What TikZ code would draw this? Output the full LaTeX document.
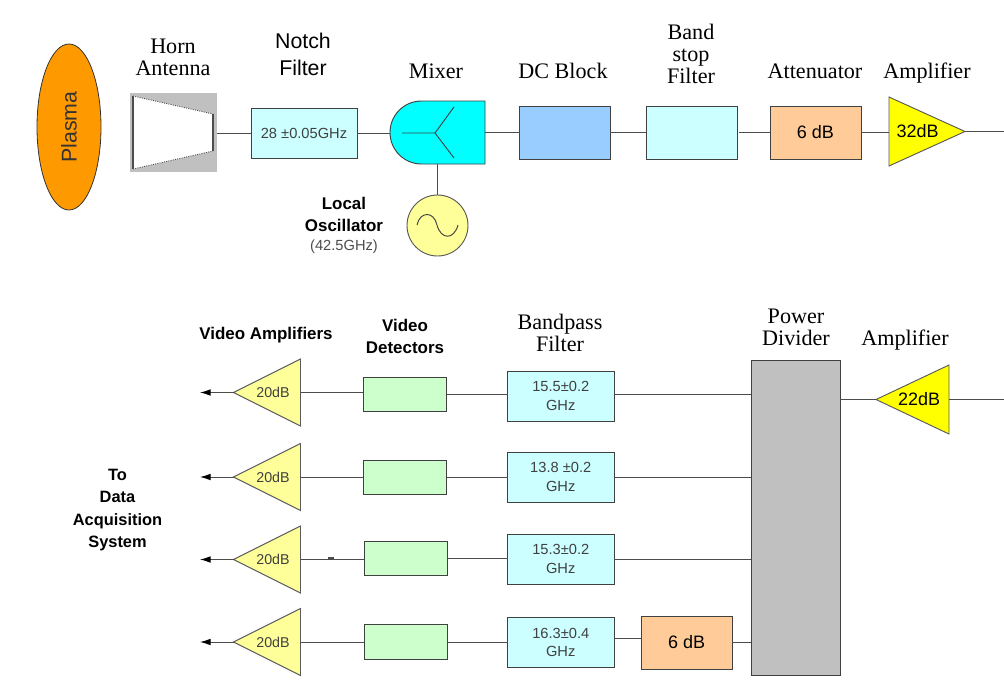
\documentclass[tikz,border=0pt]{standalone}
\usepackage{fontspec}
\setmainfont{Liberation Sans}
\newfontfamily\timesfont{Liberation Serif}
\usetikzlibrary{arrows.meta}
\usetikzlibrary{shapes.geometric,shapes.misc}
\definecolor{plasmaorange}{HTML}{FF9900}
\definecolor{lightcyan}{HTML}{CCFFFF}
\definecolor{mixercyan}{HTML}{00FFFF}
\definecolor{dcblue}{HTML}{99CCFF}
\definecolor{attorange}{HTML}{FFCC99}
\definecolor{ampyellow}{HTML}{FFFF00}
\definecolor{softyellow}{HTML}{FFFF99}
\definecolor{detgreen}{HTML}{CCFFCC}
\definecolor{divgray}{HTML}{C0C0C0}
\tikzset{>={Latex[length=8pt,width=5pt,black]}}
\tikzset{
    conn/.style={draw=black!70, line width=0.7pt},
    box/.style n args={3}{draw=black!75, line width=0.7pt, fill=#3, rectangle, inner sep=0pt, outer sep=0pt,
        minimum width=#1*0.75pt, minimum height=#2*0.75pt, text=black!75, font=\fontsize{11}{14}\selectfont, align=center},
    amp/.style n args={3}{draw=black!65, line width=0.7pt, fill=#3, isosceles triangle, isosceles triangle stretches,
        inner sep=0pt, outer sep=0pt, minimum height=#1*0.75pt, minimum width=#2*0.75pt},
    serif/.style={font=\timesfont\fontsize{16.6}{16.5}\selectfont, align=center},
    sans/.style={font=\fontsize{16}{20}\selectfont, align=center},
    bold/.style={font=\bfseries\fontsize{12.7}{16.8}\selectfont, align=center},
}

\begin{document}
\begin{tikzpicture}[x=0.75pt, y=-0.75pt]
        \useasboundingbox (0, 0) rectangle (1004, 683);

        % Plasma
        \draw (69, 127) node[draw=black!80, line width=0.6pt, fill=plasmaorange, ellipse, inner sep=0pt, outer sep=0pt,
            minimum width=48pt, minimum height=124.5pt] (plasma) {};
        \draw (69, 127) node[rotate=90, font=\fontsize{16}{20}\selectfont, text=black!80] (plasmatext) {Plasma};

        % Horn
        \draw (173.5, 132.5) node[fill=divgray, rectangle, inner sep=0pt, outer sep=0pt,
            minimum width=65.25pt, minimum height=59.25pt] (horn) {};
        \fill[white] (133, 96) -- (213, 114) -- (213, 151) -- (133, 169) -- cycle;
        \draw[black!70, line width=1.2pt] (133, 96) -- (133, 169);
        \draw[black!70, line width=0.8pt] (213, 114) -- (213, 151);
        \draw[black!70, line width=0.7pt, densely dotted] (133, 96) -- (213, 114);
        \draw[black!70, line width=0.7pt, densely dotted] (133, 169) -- (213, 151);
        \draw (173, 57) node[serif] (hornlabel) {Horn\\Antenna};

        % Notch
        \draw (304, 133) node[box={106}{50}{lightcyan}] (notch) {28 ±0.05GHz};
        \draw (303, 54.5) node[sans] (notchlabel) {Notch\\Filter};

        % Mixer
        \draw (437.5, 132.5) node[draw=black!75, line width=0.7pt, fill=mixercyan, rounded rectangle, rounded rectangle right arc=none,
            inner sep=0pt, outer sep=0pt, minimum width=71.25pt, minimum height=47.25pt] (mixer) {};
        \draw[black!75, line width=0.7pt] (402, 133) -- (435, 133) -- (454, 107);
        \draw[black!75, line width=0.7pt] (435, 133) -- (454, 158);
        \draw (436, 71) node[serif] (mixerlabel) {Mixer};

        % Oscillator
        \draw (437.5, 225.5) node[draw=black!65, line width=0.7pt, fill=softyellow, circle, inner sep=0pt, outer sep=0pt,
            minimum size=45.75pt] (lo) {};
        \draw[black!75, line width=0.7pt] (417, 225) .. controls (420, 211) and (434, 211) .. (437, 225)
            .. controls (441, 240) and (454, 240) .. (458, 225);
        \draw (344, 214.5) node[bold] (lolabel) {Local\\Oscillator};
        \draw (344, 246.5) node[font=\fontsize{11}{14}\selectfont, text=black!70] (lofreq) {(42.5GHz)};

        % Upper chain
        \draw (564.75, 132.5) node[box={90.5}{53}{dcblue}] (dc) {};
        \draw (563, 71) node[serif] (dclabel) {DC Block};
        \draw (691.5, 132.5) node[box={91}{53}{lightcyan}] (stop) {};
        \draw (691, 54) node[serif] (stoplabel) {Band\\stop\\Filter};
        \draw (815.5, 132.5) node[box={91}{53}{attorange}, text=black, font=\fontsize{13.5}{16}\selectfont] (att) {6 dB};
        \draw (815, 71) node[serif] (attlabel) {Attenuator};
        \draw (889, 131.5) node[amp={76}{69}{ampyellow}, anchor=lower side, font=\fontsize{13.5}{16}\selectfont] (amp) {\hspace*{2pt}32dB};
        \draw (927, 73) node[serif] (amplabel) {Amplifier};
        \coordinate (out) at (1004, 131.5);

        \draw[conn] (horn.east |- notch) -- (notch);
        \draw[conn] (notch) -- (notch -| mixer.west);
        \draw[conn] (mixer.east) -- (dc);
        \draw[conn] (dc) -- (stop);
        \draw[conn, shorten <=1.5pt] (stop) -- (att);
        \draw[conn] (att) -- (att -| amp.lower side);
        \draw[conn] (amp.apex) -- (out);
        \draw[conn] (mixer.south -| lo) -- (lo);

        % Power divider
        \draw (795.5, 517.5) node[box={89}{315}{divgray}] (div) {};
        \draw (796, 327) node[serif] (divlabel) {Power\\Divider};
        \draw (949, 399.5) node[amp={73}{69}{ampyellow}, shape border rotate=180, anchor=lower side, text=black,
            font=\fontsize{13.5}{16}\selectfont] (amp0) {22dB\hspace*{4pt}};
        \draw (905, 340) node[serif] (amp0label) {Amplifier};
        \coordinate (in) at (1004, 399.5);
        \draw[conn] (in) -- (amp0.lower side);
        \draw[conn] (amp0.apex) -- (div.east |- amp0.apex);

        % 1
        \draw (300.5, 392.5) node[amp={67}{67}{softyellow}, shape border rotate=180, anchor=lower side, text=black!75,
            font=\fontsize{10.7}{14}\selectfont] (amp1) {20dB\hspace*{4pt}};
        \draw (405, 394) node[box={83.5}{34}{detgreen}] (det1) {};
        \draw (560.75, 396) node[box={106.5}{50}{lightcyan}] (bp1) {15.5±0.2\\GHz};
        \coordinate (to1) at (200, 392.5);
        \draw[conn, ->] (amp1.apex) -- (to1);
        \draw[conn] (amp1.lower side) -- (amp1.lower side -| det1.west);
        \draw[conn] (det1) -- (det1 -| bp1.west);
        \draw[conn] (bp1.east |- det1) -- (det1 -| div.west);

        % 2
        \draw (300.5, 477) node[amp={67}{67}{softyellow}, shape border rotate=180, anchor=lower side, text=black!75,
            font=\fontsize{10.7}{14}\selectfont] (amp2) {20dB\hspace*{4pt}};
        \draw (405, 477) node[box={83.5}{34}{detgreen}] (det2) {};
        \draw (560.75, 477) node[box={106.5}{50}{lightcyan}] (bp2) {13.8 ±0.2\\GHz};
        \coordinate (to2) at (200, 477);
        \draw[conn, ->] (amp2.apex) -- (to2);
        \draw[conn] (amp2.lower side) -- (det2);
        \draw[conn] (det2) -- (bp2);
        \draw[conn] (bp2) -- (bp2 -| div.west);

        % 3
        \draw (300.5, 559.5) node[amp={67}{67}{softyellow}, shape border rotate=180, anchor=lower side, text=black!75,
            font=\fontsize{10.7}{14}\selectfont] (amp3) {20dB\hspace*{4pt}};
        \draw (405.5, 558.5) node[box={83}{34}{detgreen}] (det3) {};
        \draw (560.75, 559) node[box={106.5}{50}{lightcyan}] (bp3) {15.3±0.2\\GHz};
        \coordinate (to3) at (200, 559.5);
        \draw[conn, ->] (amp3.apex) -- (to3);
        \draw[conn] (amp3.lower side) -- (amp3.lower side -| det3.west);
        \draw[conn, line width=1.2pt] (328, 558) -- (334, 558);
        \draw[conn] (det3) -- (det3 -| bp3.west);
        \draw[conn] (bp3) -- (bp3 -| div.west);

        % 4
        \draw (300.5, 642) node[amp={67}{67}{softyellow}, shape border rotate=180, anchor=lower side, text=black!75,
            font=\fontsize{10.7}{14}\selectfont] (amp4) {20dB\hspace*{4pt}};
        \draw (405.5, 642) node[box={83}{35}{detgreen}] (det4) {};
        \draw (560.75, 642.5) node[box={106.5}{50}{lightcyan}] (bp4) {16.3±0.4\\GHz};
        \draw (686.75, 642.5) node[box={90.5}{53}{attorange}, text=black, font=\fontsize{13.5}{16}\selectfont] (att4) {6 dB};
        \coordinate (to4) at (200, 642);
        \draw[conn, ->] (amp4.apex) -- (to4);
        \draw[conn] (amp4.lower side) -- (det4);
        \draw[conn] (det4) -- (det4 -| bp4.west);
        \draw[conn] ([yshift=3pt]bp4.east) -- ([yshift=3pt]att4.west);
        \draw[conn] (att4) -- (att4 -| div.west);

        % Labels
        \draw (266, 335) node[bold] (amplabels) {Video Amplifiers};
        \draw (405, 336.5) node[bold] (detlabels) {Video\\Detectors};
        \draw (560, 333) node[serif] (bplabels) {Bandpass\\Filter};
        \draw (117.5, 510) node[font=\bfseries\fontsize{12.3}{16.8}\selectfont, align=center] (daq) {To\\Data\\Acquisition\\System};
    \end{tikzpicture}
\end{document}
